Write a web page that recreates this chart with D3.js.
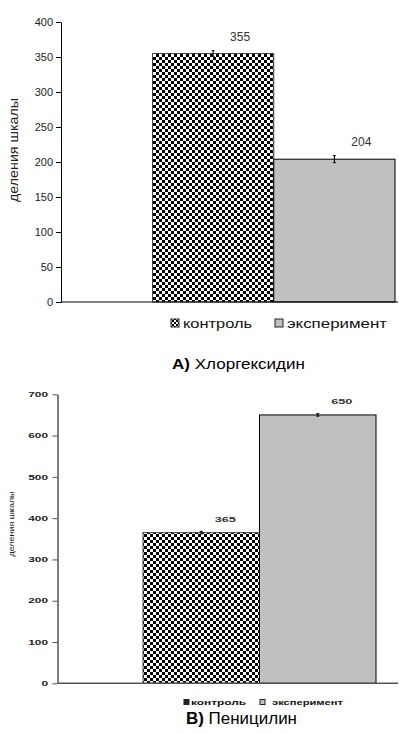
<!DOCTYPE html>
<html><head><meta charset="utf-8">
<script src="https://cdn.jsdelivr.net/npm/d3@7"></script>
<style>html,body{margin:0;padding:0;background:#fff}svg{display:block}</style>
</head><body>
<script>
const seriesNames = ["контроль", "эксперимент"];
const chlorhexidineValues = [355, 204];
const chlorhexidineErrors = [4, 5];
const penicillinValues = [365, 650];
const penicillinErrors = [3, 3];
const yTicksA = [0, 50, 100, 150, 200, 250, 300, 350, 400];
const yTicksB = [0, 100, 200, 300, 400, 500, 600, 700];
const yLabel = "деления шкалы";
const titleA = ["А)", " Хлоргексидин"];
const titleB = ["В)", " Пеницилин"];

const svg = d3.select("body").append("svg").attr("width", 399).attr("height", 733);
const defs = svg.append("defs");
function checker(id, c) {
  const p = defs.append("pattern").attr("id", id).attr("patternUnits", "userSpaceOnUse")
    .attr("width", 2 * c).attr("height", 2 * c);
  p.append("rect").attr("width", 2 * c).attr("height", 2 * c).attr("fill", "#fff");
  p.append("rect").attr("width", c).attr("height", c).attr("fill", "#000");
  p.append("rect").attr("x", c).attr("y", c).attr("width", c).attr("height", c).attr("fill", "#000");
}
checker("chk", 3);
checker("chkSmall", 2);
const fills = ["url(#chk)", "#c0c0c0"];
const FONT = "Arial, 'Liberation Sans', sans-serif";

function panel(cfg) {
  const g = svg.append("g");
  const y = d3.scaleLinear().domain([0, cfg.max]).range([cfg.y0, cfg.y1]);
  const x = d3.scaleBand().domain(seriesNames).range(cfg.barRange).paddingInner(0);
  const sx = cfg.stretch;
  // axis
  const ax = g.append("g").attr("transform", `translate(${cfg.axisX},0)`)
    .call(d3.axisLeft(y).tickValues(cfg.ticks).tickSize(5).tickSizeOuter(0));
  ax.select(".domain").attr("stroke", cfg.axisColor).attr("stroke-width", cfg.axisW);
  ax.selectAll(".tick line").attr("stroke", cfg.axisColor);
  ax.selectAll(".tick text").attr("font-family", FONT)
    .attr("font-size", cfg.tickFont).attr("font-weight", cfg.tickWeight).attr("fill", "#222")
    .attr("x", -cfg.tickGap / sx).attr("transform", `scale(${sx},1)`);
  // bars
  g.selectAll("rect.bar").data(cfg.values).join("rect").attr("class", "bar")
    .attr("x", (d, i) => x(seriesNames[i])).attr("width", x.bandwidth())
    .attr("y", d => y(d)).attr("height", d => y(0) - y(d))
    .attr("fill", (d, i) => fills[i]).attr("stroke", (d, i) => i === 0 ? "#444" : "#000").attr("stroke-width", 1);
  // x axis line
  g.append("line").attr("x1", cfg.axisX).attr("x2", 398).attr("y1", y(0)).attr("y2", y(0))
    .attr("stroke", cfg.axisColor).attr("stroke-width", cfg.axisW);
  // error bars + labels
  cfg.values.forEach((v, i) => {
    const cx = x(seriesNames[i]) + x.bandwidth() / 2;
    const e = cfg.errors[i];
    g.append("line").attr("x1", cx).attr("x2", cx).attr("y1", y(v + e)).attr("y2", y(v - e)).attr("stroke", "#000");
    [v + e, v - e].forEach(w => g.append("line").attr("x1", cx - 1.5).attr("x2", cx + 1.5)
      .attr("y1", y(w)).attr("y2", y(w)).attr("stroke", "#000"));
    g.append("text").attr("transform", `translate(${cx + cfg.labelDx},${y(v) - cfg.labelDy}) scale(${sx},1)`)
      .attr("text-anchor", "middle").attr("font-family", FONT)
      .attr("font-size", cfg.labelFont).attr("font-weight", cfg.tickWeight).attr("fill", "#333").text(v);
  });
  // y label
  g.append("text").attr("transform", `translate(${cfg.yLabelX},${cfg.yLabelY}) rotate(-90)`)
    .attr("text-anchor", "middle").attr("font-family", FONT)
    .attr("font-size", cfg.yLabelFont).attr("fill", "#222")
    .attr("textLength", cfg.yLabelLen).attr("lengthAdjust", "spacingAndGlyphs").text(yLabel);
  // legend
  cfg.legend.forEach((L, i) => {
    g.append("rect").attr("x", L.x).attr("y", cfg.legY - L.s / 2).attr("width", L.s).attr("height", L.s)
      .attr("fill", i === 0 ? (cfg.legSmall ? "#222" : "url(#chkSmall)") : "#c0c0c0")
      .attr("stroke", "#222").attr("stroke-width", 1);
    g.append("text").attr("x", L.tx).attr("y", cfg.legY).attr("dy", "0.35em")
      .attr("font-family", FONT).attr("font-size", cfg.legFont)
      .attr("font-weight", cfg.tickWeight).attr("fill", "#111")
      .attr("textLength", L.len).attr("lengthAdjust", "spacingAndGlyphs").text(seriesNames[i]);
  });
  // title
  const tt = g.append("text").attr("x", cfg.titleX).attr("y", cfg.titleY).attr("dy", "0.35em")
    .attr("font-family", FONT).attr("font-size", cfg.titleFont).attr("fill", "#000")
    .attr("textLength", cfg.titleLen).attr("lengthAdjust", "spacingAndGlyphs");
  tt.append("tspan").attr("font-weight", "bold").text(cfg.title[0]);
  tt.append("tspan").text(cfg.title[1]);
}

panel({
  max: 400, y0: 302, y1: 22, axisX: 61, ticks: yTicksA, barRange: [152.5, 395],
  values: chlorhexidineValues, errors: chlorhexidineErrors, stretch: 1,
  tickFont: 11, tickWeight: "normal", tickGap: 8, axisColor: "#000", axisW: 1,
  labelFont: 12, labelDx: 27, labelDy: 13,
  yLabelX: 18, yLabelY: 150, yLabelFont: 12.5, yLabelLen: 104,
  legY: 323, legFont: 13, legSmall: false,
  legend: [{ x: 171, s: 8, tx: 183, len: 69 }, { x: 275, s: 8, tx: 287, len: 100 }],
  title: titleA, titleX: 172, titleY: 364, titleFont: 15.5, titleLen: 133
});
panel({
  max: 700, y0: 683.3, y1: 394.3, axisX: 57.5, ticks: yTicksB, barRange: [143, 376],
  values: penicillinValues, errors: penicillinErrors, stretch: 1.7,
  tickFont: 7, tickWeight: "bold", tickGap: 9.5, axisColor: "#555", axisW: 1.5,
  labelFont: 7.5, labelDx: 24, labelDy: 11,
  yLabelX: 14, yLabelY: 524, yLabelFont: 6.5, yLabelLen: 65,
  legY: 702, legFont: 7.5, legSmall: true,
  legend: [{ x: 184, s: 5, tx: 191, len: 55 }, { x: 260, s: 5, tx: 272, len: 71 }],
  title: titleB, titleX: 186, titleY: 718.5, titleFont: 16, titleLen: 111
});
</script>
</body></html>
